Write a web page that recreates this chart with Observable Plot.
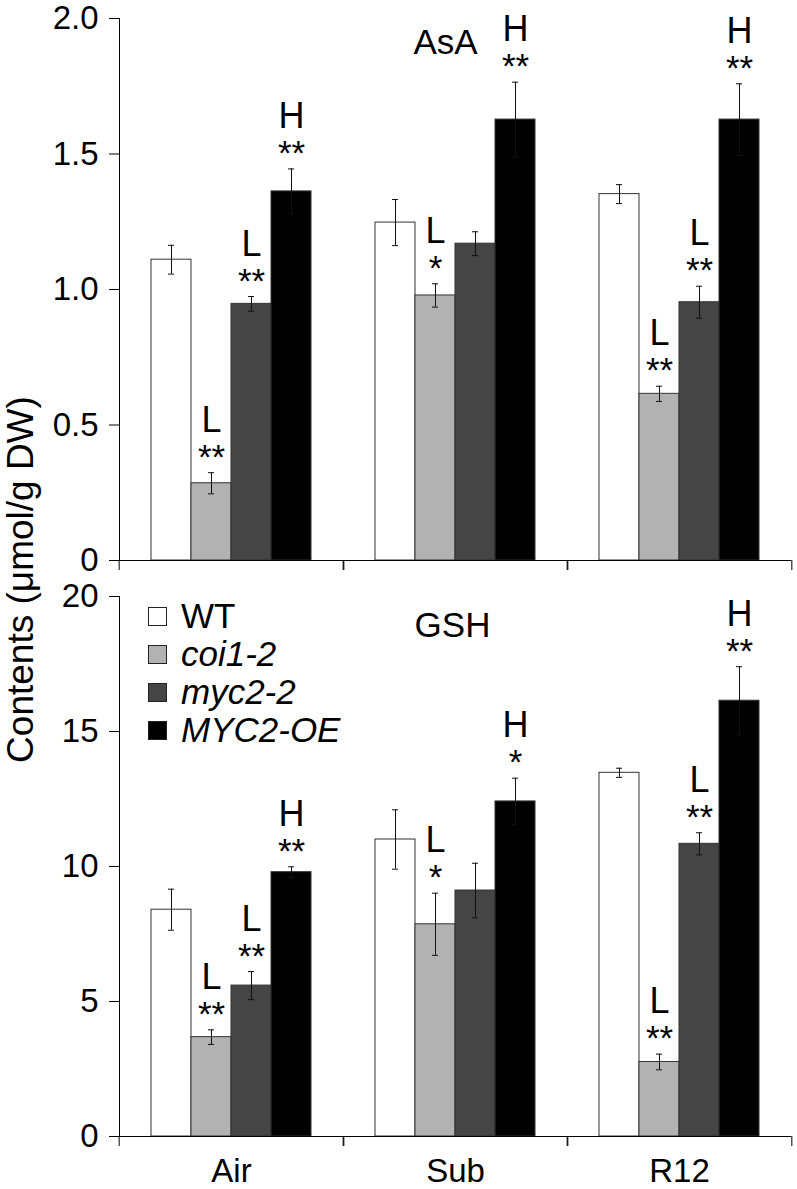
<!DOCTYPE html>
<html>
<head>
<meta charset="utf-8">
<script src="https://cdn.jsdelivr.net/npm/d3@7"></script>
<script src="https://cdn.jsdelivr.net/npm/@observablehq/plot@0.6"></script>
<style>
  html, body { margin: 0; padding: 0; background: #fff; }
  #wrap { position: relative; width: 797px; height: 1189px; overflow: hidden; font-family: 'Liberation Sans', Arial, sans-serif; }
  #wrap svg { display: block; }
  #ytitle { position: absolute; width: 540px; height: 37px; line-height: 37px; font-size: 37px; text-align: center;
            left: -250px; top: 560.5px; transform: rotate(-90deg); transform-origin: 50% 50%; white-space: nowrap; color: #000; }
  #legend { position: absolute; left: 148px; top: 597px; font-size: 35px; color: #000; }
  .row { display: flex; align-items: center; height: 38px; }
  .sw { width: 17px; height: 17px; border: 1.5px solid #222; margin-right: 14px; }
  .it { font-style: italic; }
</style>
</head>
<body>
<div id="wrap">
  <div id="top"></div>
  <div id="bottom"></div>
  <div id="ytitle">Contents (μmol/g DW)</div>
  <div id="legend"></div>
</div>
<script>
// ---- data ----
const conditions = ["Air", "Sub", "R12"];
const genotypes = ["WT", "coi1-2", "myc2-2", "MYC2-OE"];
const genotypeColors = ["#ffffff", "#b2b2b2", "#454545", "#000000"];

// rows: conditions (Air, Sub, R12); columns: genotypes
const asaMeans = [
  [1.110, 0.285, 0.947, 1.362],
  [1.247, 0.978, 1.169, 1.627],
  [1.352, 0.615, 0.953, 1.627]
];
const asaErrors = [
  [0.053, 0.039, 0.027, 0.083],
  [0.085, 0.043, 0.044, 0.138],
  [0.035, 0.028, 0.059, 0.132]
];
const asaLetters = [["", "L", "L", "H"], ["", "L", "", "H"], ["", "L", "L", "H"]];
const asaStars = [["", "**", "**", "**"], ["", "*", "", "**"], ["", "**", "**", "**"]];

const gshMeans = [
  [8.40, 3.68, 5.59, 9.79],
  [11.00, 7.86, 9.11, 12.41],
  [13.47, 2.76, 10.84, 16.14]
];
const gshErrors = [
  [0.76, 0.27, 0.52, 0.20],
  [1.10, 1.15, 1.01, 0.86],
  [0.17, 0.29, 0.41, 1.26]
];
const gshLetters = [["", "L", "L", "H"], ["", "L", "", "H"], ["", "L", "L", "H"]];
const gshStars = [["", "**", "**", "**"], ["", "*", "", "*"], ["", "**", "**", "**"]];

const asaTicks = [0, 0.5, 1.0, 1.5, 2.0];
const gshTicks = [0, 5, 10, 15, 20];

function rowsOf(means, errors, letters, stars) {
  return conditions.flatMap((c, i) => genotypes.map((g, j) => ({
    cond: c, geno: g, value: means[i][j], err: errors[i][j],
    letter: letters[i][j], stars: stars[i][j]
  })));
}

const W = 797, ML = 118, MR = 5;
const halfFacet = (W - ML - MR) / conditions.length / 2;
const FONT = "'Liberation Sans', Arial, sans-serif";

function panel({rows, ticks, fmt, height, marginTop, marginBottom, title, titleDx, titleDy, labels}) {
  const lo = d => d.value - d.err, hi = d => d.value + d.err;
  const marks = [
    Plot.barY(rows, {fx: "cond", x: "geno", y: "value", fill: "geno", stroke: "#333", strokeWidth: 1}),
    Plot.ruleX(rows, {fx: "cond", x: "geno", y1: lo, y2: hi, stroke: "#111", strokeWidth: 1}),
    Plot.tickY(rows, {fx: "cond", x: "geno", y: lo, stroke: "#111", insetLeft: 17, insetRight: 17}),
    Plot.tickY(rows, {fx: "cond", x: "geno", y: hi, stroke: "#111", insetLeft: 17, insetRight: 17}),
    Plot.text(rows, {fx: "cond", x: "geno", y: hi, text: "stars", lineAnchor: "bottom", dy: -4, fontSize: 35}),
    Plot.text(rows, {fx: "cond", x: "geno", y: hi, text: "letter", lineAnchor: "bottom", dy: -41, fontSize: 36}),
    Plot.text([{cond: "Sub", label: title}], {fx: "cond", text: "label", frameAnchor: "top", lineAnchor: "bottom", dx: titleDx, dy: titleDy, fontSize: 35}),
    Plot.ruleY([0], {stroke: "#000", strokeWidth: 1}),
    Plot.frame({anchor: "left", facetAnchor: "left", stroke: "#000"}),
    Plot.axisY({ticks, tickFormat: fmt, tickSize: 10, tickPadding: 11, fontSize: 33, label: null}),
    Plot.axisFx({anchor: "bottom", tickSize: 10, tickFormat: () => "", dx: -halfFacet, label: null}),
    Plot.axisFx({anchor: "bottom", tickSize: 10, tickFormat: () => "", dx: halfFacet, label: null})
  ];
  if (labels) marks.push(Plot.axisFx({anchor: "bottom", tickSize: 0, tickPadding: 22, fontSize: 33, label: null}));
  return Plot.plot({
    width: W, height, marginLeft: ML, marginRight: MR, marginTop, marginBottom,
    style: {fontFamily: FONT, color: "#000", background: "#fff", overflow: "visible"},
    fx: {domain: conditions, padding: 0, axis: null},
    x: {domain: genotypes, paddingInner: 0, paddingOuter: 0.75, axis: null},
    y: {domain: [ticks[0], ticks[ticks.length - 1]], axis: null},
    color: {domain: genotypes, range: genotypeColors},
    marks
  });
}

document.getElementById("top").append(panel({
  rows: rowsOf(asaMeans, asaErrors, asaLetters, asaStars),
  ticks: asaTicks, fmt: d => d === 0 ? "0" : d.toFixed(1),
  height: 575, marginTop: 18, marginBottom: 15,
  title: "AsA", titleDx: -10, titleDy: 35, labels: false
}));
document.getElementById("bottom").append(panel({
  rows: rowsOf(gshMeans, gshErrors, gshLetters, gshStars),
  ticks: gshTicks, fmt: d => String(d),
  height: 614, marginTop: 21, marginBottom: 53,
  title: "GSH", titleDx: -3, titleDy: 40, labels: true
}));

// legend (inside the lower panel, as in the original)
const legend = document.getElementById("legend");
genotypes.forEach((g, i) => {
  const row = document.createElement("div");
  row.className = "row";
  const sw = document.createElement("span");
  sw.className = "sw";
  sw.style.background = genotypeColors[i];
  const t = document.createElement("span");
  t.textContent = g;
  if (i > 0) t.className = "it";
  row.append(sw, t);
  legend.append(row);
});
</script>
</body>
</html>
